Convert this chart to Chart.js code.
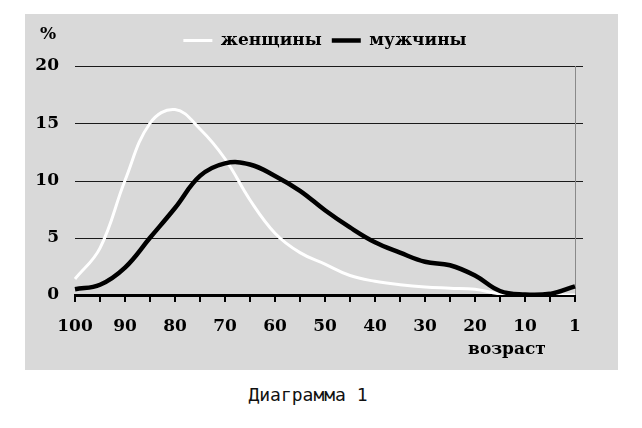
<!DOCTYPE html>
<html>
<head>
<meta charset="utf-8">
<script src="https://cdn.jsdelivr.net/npm/chart.js@4.4.1/dist/chart.umd.min.js"></script>
<style>
    body { margin: 0; background: #fff; width: 642px; height: 428px; position: relative; overflow: hidden; }
    #panel { position: absolute; left: 25px; top: 14px; width: 593px; height: 356px; background: #d9d9d9; }
    #caption { position: absolute; left: 0; width: 616px; top: 384px; text-align: center;
               font-family: "DejaVu Sans Mono", monospace; font-size: 18px; color: #111; }
</style>
</head>
<body>
<div id="panel"><canvas id="myChart"></canvas></div>
<div id="caption">Диаграмма 1</div>
<script>
// возраст: 100, 95, ... 5, 1
const ages = ['100', '95', '90', '85', '80', '75', '70', '65', '60', '55', '50',
              '45', '40', '35', '30', '25', '20', '15', '10', '5', '1'];
const shownAges = ['100', '90', '80', '70', '60', '50', '40', '30', '20', '10', '1'];

// % по возрасту
const women = [1.4, 4.1, 10.0, 15.0, 16.2, 14.5, 11.9, 8.3, 5.4, 3.7, 2.7,
               1.7, 1.2, 0.9, 0.7, 0.6, 0.5, 0.1, 0, 0, 0];
const men   = [0.5, 0.9, 2.4, 5.0, 7.6, 10.4, 11.5, 11.4, 10.4, 9.1, 7.4,
               5.9, 4.6, 3.7, 2.9, 2.6, 1.7, 0.35, 0.05, 0.1, 0.75];

const seriesNames = ['женщины', 'мужчины'];
const yTicks = [0, 5, 10, 15, 20];

const serifBold = { family: '"DejaVu Serif", serif', size: 17, weight: 'bold' };

// grille, bord droit, "%" et "возраст"
const decor = {
    id: 'decor',
    afterLayout(chart) {
        // légende centrée sur la zone du graphique, un peu plus haut
        const lg = chart.legend;
        lg.left = chart.chartArea.left;
        lg.right = chart.chartArea.right;
        lg.width = lg.right - lg.left;
        lg.top -= 7;
        lg.bottom -= 7;
    },
    beforeDatasetsDraw(chart) {
        const { ctx, chartArea, scales: { x, y } } = chart;
        ctx.save();
        ctx.strokeStyle = '#1a1a1a';
        ctx.lineWidth = 1.2;
        yTicks.forEach(v => {
            if (v === 0) return;
            const py = Math.round(y.getPixelForValue(v)) + 0.5;
            ctx.beginPath();
            ctx.moveTo(chartArea.left, py);
            ctx.lineTo(chartArea.right + 8, py);
            ctx.stroke();
        });
        const rx = Math.round(x.getPixelForValue(ages.length - 1)) + 0.5;
        ctx.strokeStyle = '#8a8a8a';
        ctx.lineWidth = 1;
        ctx.beginPath();
        ctx.moveTo(rx, y.getPixelForValue(20));
        ctx.lineTo(rx, y.getPixelForValue(0));
        ctx.stroke();
        ctx.restore();
    },
    afterDraw(chart) {
        const { ctx, chartArea, scales: { x, y } } = chart;
        ctx.save();
        ctx.font = 'bold 17px "DejaVu Serif", serif';
        ctx.fillStyle = '#000';
        ctx.textAlign = 'center';
        ctx.textBaseline = 'middle';
        ctx.fillText('%', chartArea.left - 27, y.getPixelForValue(20) - 31);
        ctx.textBaseline = 'alphabetic';
        ctx.fillText('возраст', x.getPixelForValue(17) + 7, chartArea.bottom + 59);
        ctx.restore();
    }
};

Chart.defaults.animation = false;
const ctx = document.getElementById('myChart').getContext('2d');
new Chart(ctx, {
    type: 'line',
    data: {
        labels: ages,
        datasets: [
            { label: seriesNames[0], data: women, borderColor: '#ffffff', backgroundColor: '#ffffff',
              borderWidth: 3, pointRadius: 0, tension: 0.4, order: 1 },
            { label: seriesNames[1], data: men, borderColor: '#000000', backgroundColor: '#000000',
              borderWidth: 4.5, pointRadius: 0, tension: 0.4, order: 0 }
        ]
    },
    options: {
        responsive: true,
        maintainAspectRatio: false,
        layout: { padding: { left: 0, right: 43, top: 15, bottom: 0 } },
        plugins: {
            legend: {
                position: 'top',
                labels: {
                    usePointStyle: true,
                    pointStyle: 'line',
                    pointStyleWidth: 29,
                    color: '#000',
                    font: serifBold,
                    padding: 10,
                    sort: (a, b) => a.datasetIndex - b.datasetIndex
                }
            },
            tooltip: { enabled: false }
        },
        scales: {
            x: {
                afterFit: s => { s.height = 75; },
                border: { display: true, color: '#000', width: 3 },
                grid: { drawOnChartArea: false, drawTicks: true, tickLength: 7, color: '#000', lineWidth: 2 },
                ticks: {
                    autoSkip: false,
                    maxRotation: 0,
                    padding: 14,
                    color: '#000',
                    font: serifBold,
                    callback: function(value) {
                        const lab = this.getLabelForValue(value);
                        return shownAges.includes(lab) ? lab : '';
                    }
                }
            },
            y: {
                min: 0,
                max: 20,
                afterFit: s => { s.width = 50; },
                border: { display: false },
                grid: { display: false, drawTicks: false, tickLength: 0 },
                ticks: { stepSize: 5, padding: 16, color: '#000', font: serifBold }
            }
        }
    },
    plugins: [decor]
});
</script>
</body>
</html>
